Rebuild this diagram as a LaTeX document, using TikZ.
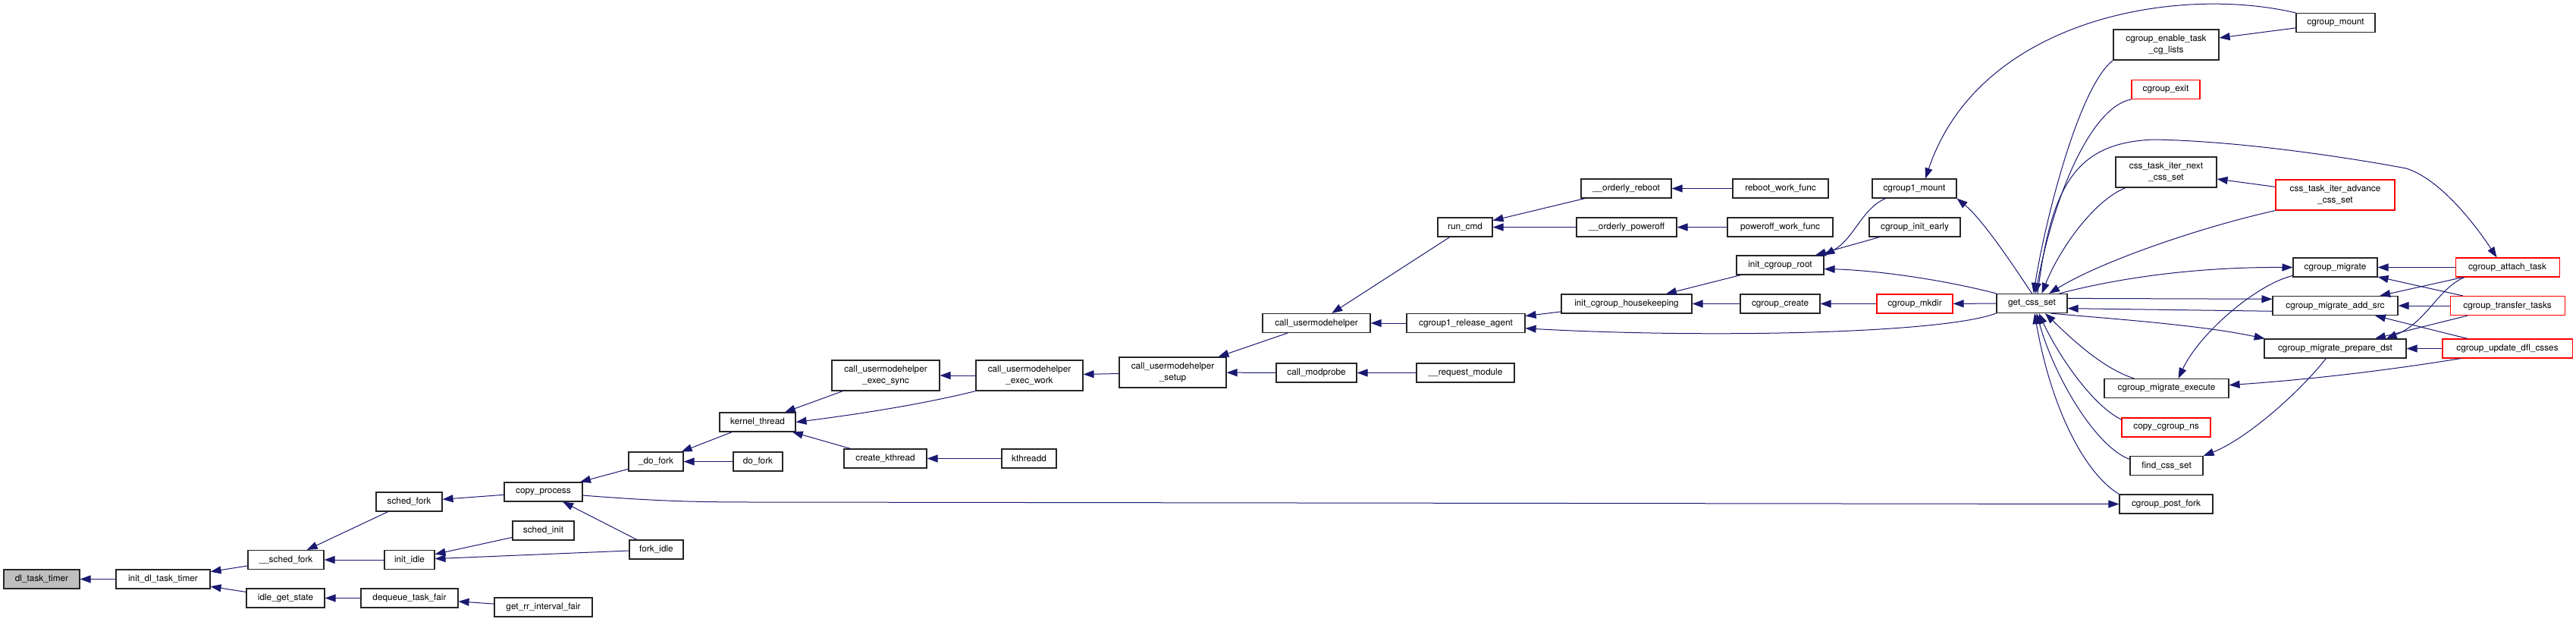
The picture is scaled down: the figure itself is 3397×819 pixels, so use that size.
\documentclass[tikz,border=0pt]{standalone}
\usepackage{fontspec}
\setmainfont{TeX Gyre Heros}
\usetikzlibrary{arrows.meta}
\definecolor{edgeblue}{HTML}{191970}
\definecolor{rootgray}{HTML}{BFBFBF}
\definecolor{linkred}{HTML}{FF0000}
\tikzset{
  fn/.style={draw=black!85, fill=white, line width=0.55pt, inner sep=0pt,
    minimum height=12.5pt, align=center,
    font=\fontsize{5.9pt}{7.5pt}\selectfont},
  two/.style={minimum height=20pt},
  fnred/.style={fn, draw=linkred},
  fnroot/.style={fn, fill=rootgray},
  boxw/.style={minimum width=#1*0.5pt},
  call/.style={draw=edgeblue, line width=0.5pt, -{Triangle[length=7pt,width=5pt]}},
}
\begin{document}
\begin{tikzpicture}[x=0.5pt,y=-0.5pt]
    \useasboundingbox (0,0) rectangle (3397,819);

    % fork / idle side
    \node[fnroot, boxw=100] (dltt) at (55,763.5) {dl\_task\_timer};
    \node[fn, boxw=124] (initdl) at (215,763.5) {init\_dl\_task\_timer};
    \node[fn, boxw=100] (schedforkin) at (377,738) {\_\_sched\_fork};
    \node[fn, boxw=103] (idlegs) at (376.5,788.5) {idle\_get\_state};
    \node[fn, boxw=87] (schedfork) at (539.5,661.5) {sched\_fork};
    \node[fn, boxw=66] (initidle) at (540,738) {init\_idle};
    \node[fn, boxw=128] (dequeue) at (540,788.5) {dequeue\_task\_fair};
    \node[fn, boxw=103] (copyproc) at (716.5,648.5) {copy\_process};
    \node[fn, boxw=81] (schedinit) at (716.5,699.5) {sched\_init};
    \node[fn, boxw=71] (forkidle) at (865.5,724.5) {fork\_idle};
    \node[fn, boxw=129] (getrr) at (716.5,800.5) {get\_rr\_interval\_fair};
    \node[fn, boxw=72] (doforkin) at (865,608.5) {\_do\_fork};
    \node[fn, boxw=65] (dofork) at (999.5,608.5) {do\_fork};
    \node[fn, boxw=100] (kthread) at (999,556.5) {kernel\_thread};
    \node[fn, two, boxw=142] (execsync) at (1168,495) {call\_usermodehelper\\\_exec\_sync};
    \node[fn, boxw=109] (createkt) at (1167.5,604.5) {create\_kthread};
    \node[fn, two, boxw=141] (execwork) at (1357.5,495) {call\_usermodehelper\\\_exec\_work};
    \node[fn, boxw=72] (kthreadd) at (1357,604.5) {kthreadd};
    \node[fn, two, boxw=141] (umhsetup) at (1546.5,491) {call\_usermodehelper\\\_setup};
    \node[fn, boxw=142] (umh) at (1736,426) {call\_usermodehelper};
    \node[fn, boxw=106] (modprobe) at (1736,491.5) {call\_modprobe};
    \node[fn, boxw=156] (relagent) at (1933,426) {cgroup1\_release\_agent};
    \node[fn, boxw=129] (reqmod) at (1932.5,491.5) {\_\_request\_module};
    \node[fn, boxw=72] (runcmd) at (1932,299.5) {run\_cmd};
    \node[fn, boxw=119] (oreboot) at (2144.5,248.5) {\_\_orderly\_reboot};
    \node[fn, boxw=132] (opoweroff) at (2145,299.5) {\_\_orderly\_poweroff};
    \node[fn, boxw=172] (housekeep) at (2145,400.5) {init\_cgroup\_housekeeping};
    \node[fn, boxw=126] (rebootwf) at (2348,248.5) {reboot\_work\_func};
    \node[fn, boxw=139] (poweroffwf) at (2347.5,299.5) {poweroff\_work\_func};
    \node[fn, boxw=115] (cgroot) at (2347.5,349.5) {init\_cgroup\_root};
    \node[fn, boxw=105] (cgcreate) at (2347.5,400.5) {cgroup\_create};
    \node[fn, boxw=111] (cgonemount) at (2524.5,248.5) {cgroup1\_mount};
    \node[fn, boxw=120] (initearly) at (2525,299.5) {cgroup\_init\_early};
    \node[fnred, boxw=100] (mkdir) at (2525,400.5) {cgroup\_mkdir};
    \node[fn, boxw=93] (getcss) at (2679.5,400) {get\_css\_set};

    % cgroup side
    \node[fn, two, boxw=139] (enable) at (2856.5,59) {cgroup\_enable\_task\\\_cg\_lists};
    \node[fn, boxw=104] (cgmount) at (3080,30) {cgroup\_mount};
    \node[fnred, boxw=90] (cgexit) at (2856,118) {cgroup\_exit};
    \node[fn, two, boxw=133] (iternext) at (2856.5,227) {css\_task\_iter\_next\\\_css\_set};
    \node[fnred, two, boxw=157] (iteradv) at (3079.5,257) {css\_task\_iter\_advance\\\_css\_set};
    \node[fn, boxw=111] (migrate) at (3079.5,352.5) {cgroup\_migrate};
    \node[fn, boxw=165] (addsrc) at (3079.5,403) {cgroup\_migrate\_add\_src};
    \node[fn, boxw=187] (prepdst) at (3079.5,459.5) {cgroup\_migrate\_prepare\_dst};
    \node[fn, boxw=164] (execute) at (2857,512) {cgroup\_migrate\_execute};
    \node[fnred, boxw=117] (copyns) at (2856.5,563.5) {copy\_cgroup\_ns};
    \node[fn, boxw=96] (findcss) at (2857,614) {find\_css\_set};
    \node[fn, boxw=123] (postfork) at (2856.5,664.5) {cgroup\_post\_fork};
    \node[fnred, boxw=137] (attach) at (3306.5,352.5) {cgroup\_attach\_task};
    \node[fnred, boxw=151] (transfer) at (3306.5,403) {cgroup\_transfer\_tasks};
    \node[fnred, boxw=171] (updatedfl) at (3306.5,459.5) {cgroup\_update\_dfl\_csses};

    \foreach \s/\t in {initdl/dltt, schedforkin/initdl, idlegs/initdl,
        schedfork/schedforkin, initidle/schedforkin, dequeue/idlegs,
        copyproc/schedfork, schedinit/initidle, forkidle/initidle,
        getrr/dequeue, doforkin/copyproc, forkidle/copyproc,
        kthread/doforkin, dofork/doforkin, execsync/kthread,
        createkt/kthread, kthreadd/createkt, execwork/execsync,
        umhsetup/execwork, umh/umhsetup, modprobe/umhsetup,
        reqmod/modprobe, runcmd/umh, relagent/umh, oreboot/runcmd,
        opoweroff/runcmd, rebootwf/oreboot, poweroffwf/opoweroff,
        housekeep/relagent, cgroot/housekeep, cgcreate/housekeep,
        mkdir/cgcreate, getcss/mkdir, initearly/cgroot, cgmount/enable,
        iteradv/iternext, attach/migrate, transfer/migrate, attach/addsrc,
        transfer/addsrc, transfer/prepdst, updatedfl/prepdst,
        updatedfl/addsrc} {
      \draw[call] (\s) -- (\t);
    }

    \draw[call] (execwork.south west) .. controls (1220,532) and (1140,545) .. (kthread.east);
    \draw[call] (copyproc.-5) .. controls (870,661) and (920,662) .. (1000,662) -- (postfork.west);
    \draw[call] (getcss.south west) .. controls (2560,440) and (2250,446) .. (relagent.-5);
    \draw[call] (cgonemount.199) .. controls (2455,275) and (2445,315) .. (cgroot.north east);
    \draw[call] (getcss.north west) .. controls (2560,368) and (2470,356) .. (cgroot.-5);
    \draw[call] (getcss.north) .. controls (2655,350) and (2615,290) .. (cgonemount.south east);
    \draw[call] (cgmount.north west) .. controls (2870,-20) and (2610,25) .. (cgonemount.42);

    \draw[call] (enable.south west) .. controls (2740,115) and (2695,300) .. (getcss.80);
    \draw[call] (cgexit.south west) .. controls (2760,140) and (2710,250) .. (getcss.70);
    \draw[call] (getcss.60) .. controls (2705,240) and (2740,188) .. (2840,184)
      .. controls (2960,186) and (3110,210) .. (3173,222)
      .. controls (3215,235) and (3260,290) .. (attach.137);
    \draw[call] (iternext.201) .. controls (2760,265) and (2715,330) .. (getcss.45);
    \draw[call] (iteradv.south west) .. controls (2900,300) and (2770,345) .. (getcss.30);
    \draw[call] (getcss.20) .. controls (2800,365) and (2900,352) .. (migrate.west);
    \draw[call] (getcss.8) -- (addsrc.174);
    \draw[call] (addsrc.185) -- (getcss.-8);
    \draw[call] (getcss.-28) .. controls (2780,420) and (2900,428) .. (prepdst.172);
    \draw[call] (migrate.191) .. controls (2975,375) and (2900,440) .. (execute.40);
    \draw[call] (attach.193) .. controls (3215,380) and (3200,425) .. (prepdst.11);
    \draw[call] (updatedfl.192) .. controls (3150,488) and (3050,500) .. (execute.3);
    \draw[call] (prepdst.227) .. controls (3030,520) and (2960,580) .. (findcss.north east);
    \draw[call] (execute.163) .. controls (2770,485) and (2725,440) .. (getcss.-37);
    \draw[call] (copyns.170) .. controls (2760,535) and (2715,470) .. (getcss.-55);
    \draw[call] (findcss.170) .. controls (2765,590) and (2710,500) .. (getcss.-65);
    \draw[call] (postfork.north west) .. controls (2750,625) and (2705,540) .. (getcss.-75);
\end{tikzpicture}
\end{document}
